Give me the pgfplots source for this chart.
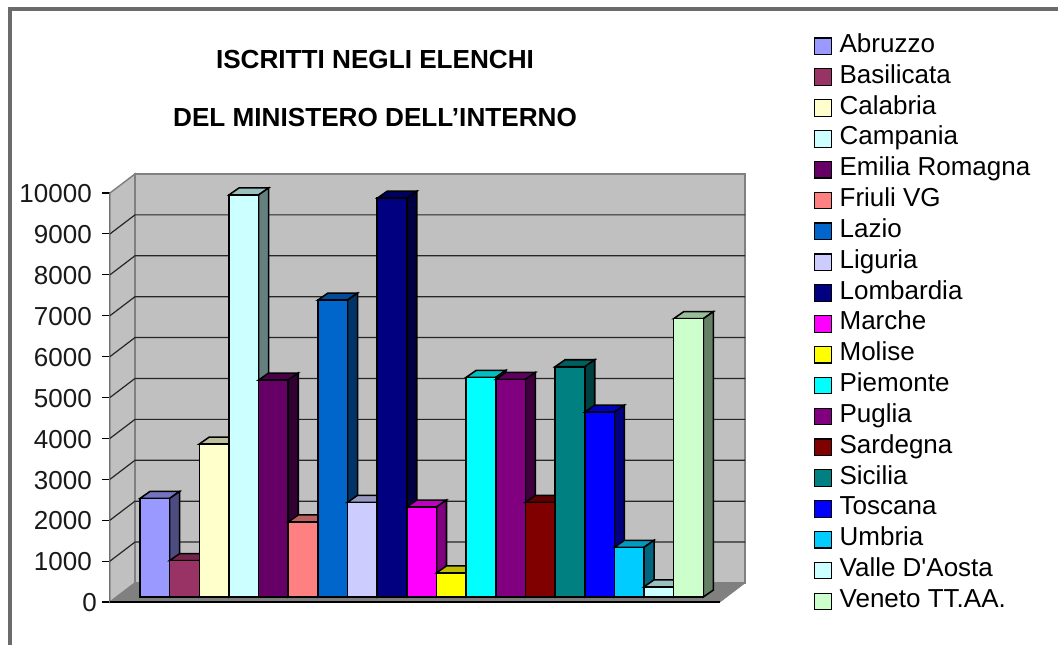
\documentclass[border=0pt]{standalone}
\usepackage{pgfplots}
\pgfplotsset{compat=1.18}
\usepackage{fontspec}
\setmainfont{Liberation Sans}[Ligatures=TeXOff]
% Excel palette
\definecolor{c1}{HTML}{9999FF}\definecolor{c2}{HTML}{993366}\definecolor{c3}{HTML}{FFFFCC}
\definecolor{c4}{HTML}{CCFFFF}\definecolor{c5}{HTML}{660066}\definecolor{c6}{HTML}{FF8080}
\definecolor{c7}{HTML}{0066CC}\definecolor{c8}{HTML}{CCCCFF}\definecolor{c9}{HTML}{000080}
\definecolor{c10}{HTML}{FF00FF}\definecolor{c11}{HTML}{FFFF00}\definecolor{c12}{HTML}{00FFFF}
\definecolor{c13}{HTML}{800080}\definecolor{c14}{HTML}{800000}\definecolor{c15}{HTML}{008080}
\definecolor{c16}{HTML}{0000FF}\definecolor{c17}{HTML}{00CCFF}\definecolor{c18}{HTML}{CCFFFF}
\definecolor{c19}{HTML}{CCFFCC}
\definecolor{wall}{HTML}{C0C0C0}\definecolor{wallline}{HTML}{808080}
% x in reference pixels from the left edge; y in the chart's own values.
% Bars stand 5 px behind the front of the floor (122 units) and are 10 px x 7 px (171 units) deep.
\newcommand\onebar[4]{%
  \pgfmathsetmacro\xa{140+29.65*#1}%
  \pgfmathsetmacro\xb{\xa+29.65}%
  \pgfmathsetmacro\xc{\xb+10}%
  \pgfmathsetmacro\xd{\xa+10}%
  \pgfmathsetmacro\ya{122}%
  \pgfmathsetmacro\yb{#2+122}%
  \pgfmathsetmacro\yc{\yb+171}%
  \pgfmathsetmacro\yd{\ya+171}%
  \edef\temp{\noexpand\addplot[forget plot,barface,fill=#3!75!black] coordinates {(\xa,\yb) (\xb,\yb) (\xc,\yc) (\xd,\yc)} --cycle;
    \noexpand\addplot[forget plot,barface,fill=#3!50!black] coordinates {(\xb,\ya) (\xc,\yd) (\xc,\yc) (\xb,\yb)} --cycle;
    \noexpand\addplot[barface,fill=#3] coordinates {(\xa,\ya) (\xb,\ya) (\xb,\yb) (\xa,\yb)} --cycle;}%
  \temp
  \addlegendentry{#4}%
}
\begin{document}
\begin{tikzpicture}[x=0.75pt,y=0.75pt]
\useasboundingbox (-110,-43) rectangle (948,602);
\begin{axis}[
  at={(0,0)},anchor=south west,
  scale only axis,width=476.25pt,height=306.75pt,
  xmin=110,xmax=745,ymin=0,ymax=10000,
  clip=false,
  axis x line=none,
  axis y line=left,
  axis line style={-,draw=black!70,line width=1pt},
  ytick={0,1000,2000,3000,4000,5000,6000,7000,8000,9000,10000},
  yticklabels={0\kern-3.75pt,1000,2000,3000,4000,5000,6000,7000,8000,9000,10000},
  scaled y ticks=false,
  tick align=outside,
  major tick length=6pt,
  tick style={draw=black,line width=0.8pt},
  yticklabel style={font=\fontsize{19.5}{21}\selectfont,text=black!90,inner sep=0pt,xshift=-7.5pt,yshift=-0.6pt},
  barface/.style={draw=black,line width=1.15pt,line join=miter},
  legend image code/.code={\draw[#1,line width=0.9pt] (0pt,-6.2pt) rectangle (12.4pt,6.2pt); \path (18pt,0pt);},
  legend style={
    at={(axis cs:810,13935)},anchor=north west,draw=none,fill=none,
    font=\fontsize{19.5}{21}\selectfont,
    row sep=6.13pt,
    nodes={inner sep=0pt,text height=13pt,text depth=4pt,anchor=west},
  },
  legend cell align=left,
]
% walls and floor
\addplot[forget plot,fill=wall,draw=wallline,line width=1.1pt] coordinates {(110,0) (135,465) (135,10465) (110,10000)} --cycle;
\addplot[forget plot,fill=wall,draw=wallline,line width=1.1pt] coordinates {(135,465) (745,465) (745,10465) (135,10465)} --cycle;
\addplot[forget plot,fill=wallline,draw=wallline,line width=0.5pt] coordinates {(110,0) (720,0) (745,465) (135,465)} --cycle;
\addplot[forget plot,black,line width=0.8pt] coordinates {(110,0) (720,0)};
% gridlines on the side wall and the back wall
\addplot[forget plot,black!85,line width=0.9pt] coordinates {(110,1000) (135,1465) (745,1465)};
\addplot[forget plot,black!85,line width=0.9pt] coordinates {(110,2000) (135,2465) (745,2465)};
\addplot[forget plot,black!85,line width=0.9pt] coordinates {(110,3000) (135,3465) (745,3465)};
\addplot[forget plot,black!85,line width=0.9pt] coordinates {(110,4000) (135,4465) (745,4465)};
\addplot[forget plot,black!85,line width=0.9pt] coordinates {(110,5000) (135,5465) (745,5465)};
\addplot[forget plot,black!85,line width=0.9pt] coordinates {(110,6000) (135,6465) (745,6465)};
\addplot[forget plot,black!85,line width=0.9pt] coordinates {(110,7000) (135,7465) (745,7465)};
\addplot[forget plot,black!85,line width=0.9pt] coordinates {(110,8000) (135,8465) (745,8465)};
\addplot[forget plot,black!85,line width=0.9pt] coordinates {(110,9000) (135,9465) (745,9465)};
% bars
\onebar{0}{2410}{c1}{Abruzzo}
\onebar{1}{890}{c2}{Basilicata}
\onebar{2}{3740}{c3}{Calabria}
\onebar{3}{9830}{c4}{Campania}
\onebar{4}{5305}{c5}{Emilia Romagna}
\onebar{5}{1835}{c6}{Friuli VG}
\onebar{6}{7260}{c7}{Lazio}
\onebar{7}{2315}{c8}{Liguria}
\onebar{8}{9750}{c9}{Lombardia}
\onebar{9}{2200}{c10}{Marche}
\onebar{10}{590}{c11}{Molise}
\onebar{11}{5370}{c12}{Piemonte}
\onebar{12}{5320}{c13}{Puglia}
\onebar{13}{2315}{c14}{Sardegna}
\onebar{14}{5630}{c15}{Sicilia}
\onebar{15}{4520}{c16}{Toscana}
\onebar{16}{1215}{c17}{Umbria}
\onebar{17}{250}{c18}{Valle D'Aosta}
\onebar{18}{6805}{c19}{Veneto TT.AA.}
\node[font=\bfseries\fontsize{19.6}{21}\selectfont] at (axis cs:375,13275) {ISCRITTI NEGLI ELENCHI};
\node[font=\bfseries\fontsize{19.6}{21}\selectfont] at (axis cs:375,11835) {DEL MINISTERO DELL’INTERNO};
\end{axis}
% outer frame of the chart
\draw[draw=black!58,line width=2.4pt] (-100,-43) -- (-100,593) -- (948,593);
\end{tikzpicture}
\end{document}
